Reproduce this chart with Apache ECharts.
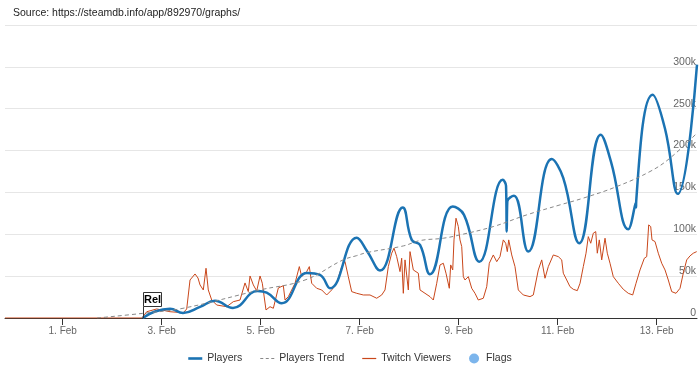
<!DOCTYPE html>
<html>
<head>
<meta charset="utf-8">
<script src="https://cdn.jsdelivr.net/npm/echarts@6/dist/echarts.min.js"></script>
<style>html,body{margin:0;padding:0;background:#fff}#c{width:700px;height:368px}</style>
</head>
<body>
<div id="c"></div>
<script>
// Time values are in days of February 2021 (1.0 = 1 Feb 00:00); values in thousands
const xTickDays = [1, 3, 5, 7, 9, 11, 13];
const yTicksK = [0, 50, 100, 150, 200, 250, 300, 350];

const playersDays = [2.616, 2.865, 3.168, 3.430, 3.774, 4.077, 4.440, 4.935, 5.121, 5.424, 5.935, 6.198, 6.400, 6.939, 7.147, 7.410, 7.869, 8.051, 8.218, 8.420, 8.879, 9.107, 9.416, 9.889, 9.956, 9.970, 9.982, 10.117, 10.406, 10.879, 11.113, 11.436, 11.869, 12.077, 12.426, 12.578, 12.582, 12.586, 12.919, 13.168, 13.424, 13.814];
const playersK    = [0, 7.8, 11.1, 6.0, 13.2, 20.7, 12.0, 32.3, 30.3, 17.6, 53.8, 51.4, 35.5, 96.0, 80.1, 56.6, 131.9, 93.3, 87.3, 52.3, 133.1, 123.2, 67.3, 165.0, 157.9, 103.2, 139.1, 145.9, 79.3, 189.8, 167.1, 89.3, 218.9, 186.6, 106.1, 138.0, 132.0, 139.5, 266.7, 226.0, 148.3, 302.6];

const trendDays = [1.693, 2.622, 3.430, 4.986, 5.895, 6.663, 6.939, 7.141, 7.881, 8.218, 8.689, 9.026, 9.699, 10.374, 11.046, 11.517, 12.192, 12.865, 13.269, 13.814];
const trendK    = [0, 5.6, 11.6, 33.5, 45.4, 69.4, 74.5, 78.1, 86.1, 92.5, 95.3, 99.3, 109.2, 123.2, 135.1, 143.2, 157.0, 175.0, 191.0, 220.9];

const twitchDays = [-0.166, 2.602, 2.697, 2.899, 3.168, 3.436, 3.505, 3.572, 3.673, 3.733, 3.774, 3.840, 3.895, 3.941, 4.010, 4.111, 4.313, 4.446, 4.582, 4.683, 4.749, 4.784, 4.851, 4.919, 4.986, 5.032, 5.107, 5.188, 5.255, 5.356, 5.457, 5.491, 5.558, 5.693, 5.780, 5.828, 5.929, 5.982, 6.030, 6.131, 6.232, 6.333, 6.434, 6.535, 6.636, 6.703, 6.770, 6.838, 6.939, 7.073, 7.208, 7.343, 7.444, 7.511, 7.578, 7.646, 7.693, 7.747, 7.814, 7.848, 7.881, 7.915, 7.949, 7.982, 8.016, 8.083, 8.184, 8.218, 8.319, 8.420, 8.487, 8.556, 8.622, 8.689, 8.743, 8.810, 8.838, 8.879, 8.905, 8.945, 8.992, 9.026, 9.061, 9.093, 9.127, 9.194, 9.263, 9.329, 9.396, 9.497, 9.566, 9.618, 9.699, 9.768, 9.834, 9.901, 9.949, 9.982, 10.010, 10.036, 10.071, 10.137, 10.204, 10.305, 10.440, 10.507, 10.608, 10.677, 10.743, 10.810, 10.911, 11.012, 11.081, 11.113, 11.182, 11.248, 11.315, 11.396, 11.451, 11.517, 11.572, 11.618, 11.667, 11.719, 11.768, 11.800, 11.840, 11.889, 11.956, 12.002, 12.057, 12.123, 12.224, 12.325, 12.426, 12.515, 12.582, 12.663, 12.750, 12.798, 12.838, 12.879, 12.905, 12.966, 13.032, 13.101, 13.168, 13.234, 13.303, 13.390, 13.471, 13.537, 13.606, 13.673, 13.739, 13.808];
const twitchK    = [0, 0, 7.5, 10.8, 7.5, 6.3, 10.8, 45.4, 52.6, 47.8, 39.5, 33.5, 59.4, 33.5, 21.5, 15.5, 13.5, 19.5, 21.5, 41.9, 31.5, 50.2, 39.5, 32.3, 50.2, 41.5, 9.6, 13.5, 11.6, 35.9, 38.6, 21.5, 25.5, 41.5, 61.4, 49.4, 55.4, 61.4, 41.5, 35.5, 33.5, 27.5, 33.5, 41.5, 61.4, 67.3, 49.4, 31.5, 29.5, 27.5, 27.5, 23.6, 27.5, 33.5, 61.4, 77.4, 83.4, 73.3, 55.4, 71.4, 29.5, 69.4, 71.4, 33.5, 79.3, 57.4, 53.5, 33.5, 29.5, 25.5, 21.5, 41.5, 63.4, 65.4, 53.5, 35.5, 63.4, 57.4, 93.3, 119.2, 109.2, 93.3, 85.3, 49.4, 45.4, 49.4, 35.5, 29.5, 21.5, 23.6, 37.4, 65.4, 75.3, 67.3, 73.3, 93.3, 89.3, 79.3, 93.3, 95.3, 75.3, 61.4, 33.5, 27.5, 25.5, 27.5, 57.4, 69.4, 47.5, 61.4, 75.3, 73.3, 69.4, 53.5, 45.4, 37.4, 34.3, 32.7, 41.5, 61.4, 77.4, 97.2, 89.3, 101.3, 103.2, 77.4, 93.3, 69.4, 95.3, 77.4, 65.4, 49.4, 41.5, 34.3, 29.5, 27.5, 41.5, 57.4, 71.4, 73.3, 111.2, 109.2, 93.3, 91.3, 77.4, 65.4, 57.4, 45.4, 31.5, 29.5, 35.5, 53.5, 69.4, 74.2, 77.4, 79.3];

const flagDays = [2.616];
const flagTitles = ['Rel'];

const zip = (xs, ys) => xs.map((x, i) => [x, ys[i] * 1000]);
const FONT = '"Liberation Sans", Arial, Helvetica, sans-serif';

const chart = echarts.init(document.getElementById('c'), null, {renderer: 'canvas'});
chart.setOption({
  animation: false,
  title: {
    text: 'Source: https://steamdb.info/app/892970/graphs/',
    left: 8, top: 3,
    textStyle: {fontSize: 10.5, fontWeight: 'normal', color: '#222', fontFamily: FONT}
  },
  grid: {left: 5, right: 3, top: 25, bottom: 50, containLabel: false},
  legend: {
    top: 348, left: 'center', itemGap: 18, itemWidth: 14, itemHeight: 10,
    textStyle: {fontSize: 10.5, color: '#333', fontFamily: FONT},
    data: [
      {name: 'Players', icon: 'path://M0,0h14v2.6h-14z'},
      {name: 'Players Trend', icon: 'path://M0,0h3v1h-3z M5.5,0h3v1h-3z M11,0h3v1h-3z'},
      {name: 'Twitch Viewers', icon: 'path://M0,0h14v1.2h-14z'},
      {name: 'Flags', icon: 'circle'}
    ]
  },
  xAxis: {
    type: 'value', min: -0.166, max: 13.814,
    axisLine: {show: true, lineStyle: {color: '#333', width: 1}},
    axisTick: {show: true, customValues: xTickDays, length: 7, lineStyle: {color: '#333'}},
    axisLabel: {
      customValues: xTickDays, margin: 8, fontSize: 10, color: '#666', fontFamily: FONT,
      formatter: v => Math.round(v) + '. Feb'
    },
    splitLine: {show: false}
  },
  yAxis: {
    type: 'value', position: 'right', min: 0, max: yTicksK[yTicksK.length - 1] * 1000, interval: 50000,
    axisLine: {show: false}, axisTick: {show: false},
    splitLine: {lineStyle: {color: '#e6e6e6', width: 1}},
    axisLabel: {
      inside: true, margin: 1, fontSize: 10.5, color: '#666', fontFamily: FONT,
      verticalAlign: 'bottom', lineHeight: 10,
      formatter: v => {
        const k = Math.round(v / 1000);
        if (k === yTicksK[yTicksK.length - 1]) return '';
        return k === 0 ? '0' : k + 'k';
      }
    }
  },
  series: [
    {
      name: 'Twitch Viewers', type: 'line', data: zip(twitchDays, twitchK),
      showSymbol: false, symbol: 'none', z: 2,
      lineStyle: {color: '#c9471b', width: 1}, itemStyle: {color: '#c9471b'}
    },
    {
      name: 'Players', type: 'line', data: zip(playersDays, playersK),
      smooth: 0.45, showSymbol: false, symbol: 'none', z: 3,
      lineStyle: {color: '#1b73b3', width: 2.5}, itemStyle: {color: '#1b73b3'}
    },
    {
      name: 'Players Trend', type: 'line', data: zip(trendDays, trendK),
      smooth: 0.4, showSymbol: false, symbol: 'none', z: 4,
      lineStyle: {color: '#888', width: 1, type: [4, 3]}, itemStyle: {color: '#888'}
    },
    {
      name: 'Flags', type: 'custom', z: 5, clip: false,
      itemStyle: {color: '#7cb5ec'},
      data: flagDays.map((d, i) => [d, 0, flagTitles[i]]),
      encode: {x: 0, y: 1},
      renderItem: (params, api) => {
        const p = api.coord([api.value(0), 0]);
        const x = Math.round(p[0]) + 0.5, y0 = Math.round(p[1]);
        const w = 18, h = 14, top = y0 - 26 + 0.5;
        return {
          type: 'group',
          children: [
            {type: 'line', shape: {x1: x, y1: top + h, x2: x, y2: y0}, style: {stroke: '#333', lineWidth: 1}},
            {type: 'rect', shape: {x: x, y: top, width: w, height: h}, style: {fill: '#fff', stroke: '#333', lineWidth: 1}},
            {type: 'text', style: {text: api.value(2), x: x + w / 2, y: top + h / 2 + 0.5, align: 'center', verticalAlign: 'middle', font: 'bold 11px ' + FONT, fill: '#000'}}
          ]
        };
      }
    }
  ]
});
</script>
</body>
</html>
